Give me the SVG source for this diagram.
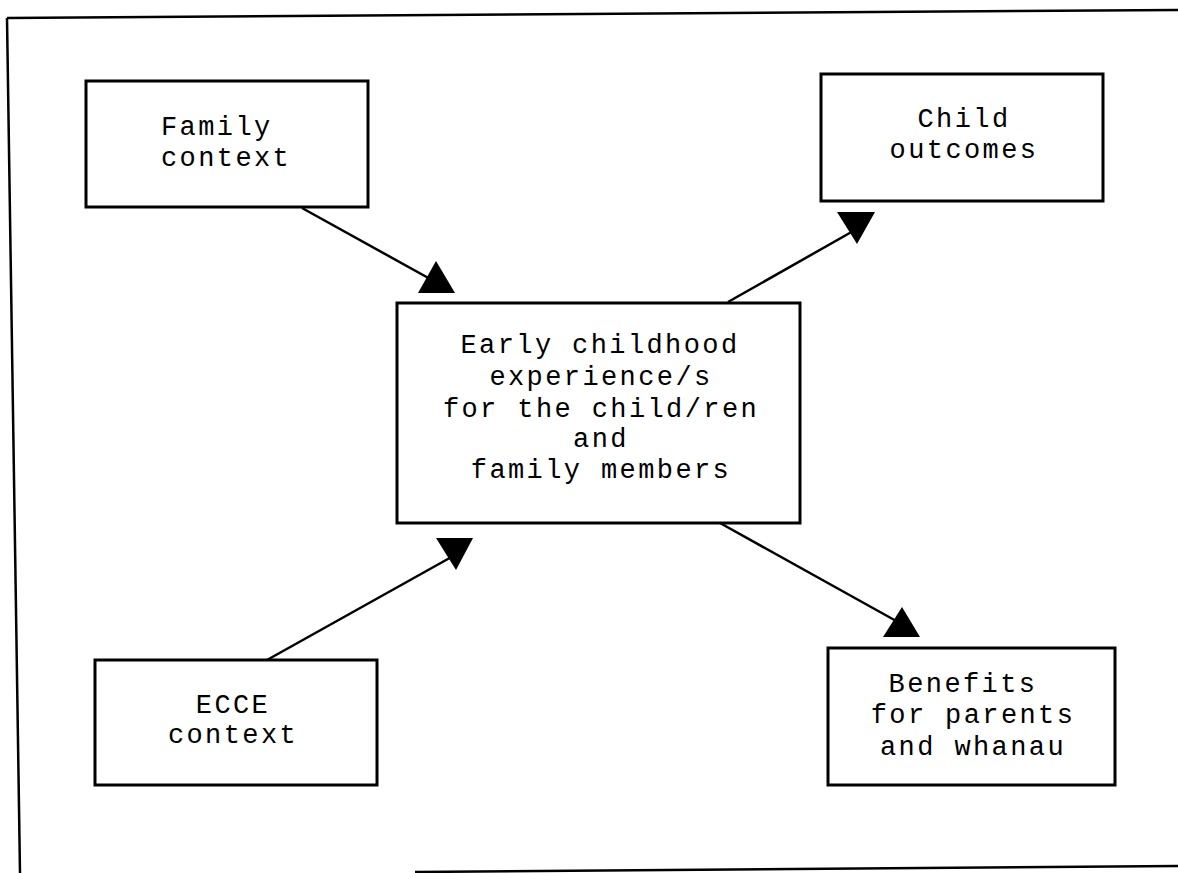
<svg xmlns="http://www.w3.org/2000/svg" width="1178" height="873" viewBox="0 0 1178 873">
<style>
.box{fill:#fff;stroke:#000;stroke-width:3}
.ln{stroke:#000;stroke-width:2.5;fill:none}
.fr{stroke:#000;stroke-width:2.5;fill:none}
.hd{fill:#000;stroke:none}
.t{font-family:"Liberation Mono","Courier New",monospace;font-size:27px;letter-spacing:2.4px;fill:#000}
.m{text-anchor:middle}
</style>
<rect width="1178" height="873" fill="#fff"/>
<g id="frame">
<line class="fr" x1="7" y1="18" x2="1178" y2="10"/>
<line class="fr" x1="7" y1="18" x2="20" y2="873"/>
<line class="fr" x1="415" y1="872" x2="1178" y2="866"/>
</g>
<g id="connectors">
<line class="ln" x1="302" y1="208" x2="432" y2="280"/>
<polygon class="hd" points="436,261 455,293 418,293"/>
<line class="ln" x1="728" y1="302" x2="855" y2="230"/>
<polygon class="hd" points="837,212 875,212 857,244"/>
<line class="ln" x1="267" y1="660" x2="455" y2="555"/>
<polygon class="hd" points="436,538 473,538 456,570"/>
<line class="ln" x1="720" y1="523" x2="898" y2="622"/>
<polygon class="hd" points="902,607 920,637 883,637"/>
</g>
<g id="family">
<rect class="box" x="86" y="81" width="282" height="126"/>
<text class="t" x="161" y="135">Family</text>
<text class="t" x="161" y="166">context</text>
</g>
<g id="child">
<rect class="box" x="821" y="74" width="282" height="127"/>
<text class="t m" x="964" y="127">Child</text>
<text class="t m" x="964" y="158">outcomes</text>
</g>
<g id="central">
<rect class="box" x="397" y="303" width="403" height="220"/>
<text class="t m" x="600" y="353">Early childhood</text>
<text class="t m" x="601" y="385">experience/s</text>
<text class="t m" x="601" y="417">for the child/ren</text>
<text class="t m" x="601" y="447">and</text>
<text class="t m" x="601" y="478">family members</text>
</g>
<g id="ecce">
<rect class="box" x="95" y="660" width="282" height="125"/>
<text class="t m" x="233" y="713">ECCE</text>
<text class="t m" x="233" y="743">context</text>
</g>
<g id="benefits">
<rect class="box" x="828" y="648" width="287" height="137"/>
<text class="t m" x="963" y="692">Benefits</text>
<text class="t m" x="973" y="723">for parents</text>
<text class="t m" x="973" y="755">and whanau</text>
</g>
</svg>
